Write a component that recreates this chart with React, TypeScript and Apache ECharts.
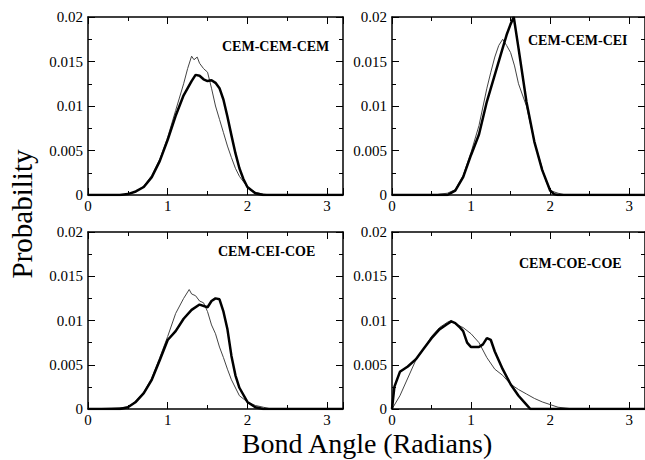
import React, { useEffect, useRef } from "react";
import * as echarts from "echarts";

// Panel names
const panelNames = ["CEM-CEM-CEM", "CEM-CEM-CEI", "CEM-CEI-COE", "CEM-COE-COE"];

// [angle (rad), probability] pairs
const tlThin = [[0,0],[0.45,0],[0.5,0.0001],[0.6,0.0004],[0.7,0.001],[0.8,0.0022],[0.9,0.004],[1.0,0.0065],[1.1,0.0095],[1.2,0.0125],[1.25,0.0142],[1.3,0.0156],[1.33,0.0152],[1.37,0.0155],[1.4,0.0148],[1.45,0.0142],[1.5,0.0138],[1.55,0.012],[1.6,0.01],[1.65,0.0085],[1.7,0.007],[1.75,0.0055],[1.8,0.0042],[1.85,0.003],[1.9,0.0021],[2.0,0.0009],[2.1,0.0003],[2.2,0.0001],[2.3,0],[3.2,0]];
const tlThick = [[0,0],[0.4,0],[0.5,0.0001],[0.6,0.0004],[0.7,0.0009],[0.8,0.002],[0.9,0.0038],[1.0,0.0062],[1.1,0.0089],[1.2,0.0112],[1.3,0.0128],[1.35,0.0135],[1.4,0.0134],[1.45,0.013],[1.5,0.0128],[1.55,0.0129],[1.6,0.0126],[1.65,0.012],[1.7,0.0107],[1.75,0.0088],[1.8,0.0067],[1.85,0.0047],[1.9,0.003],[1.95,0.0018],[2.0,0.0009],[2.1,0.0002],[2.2,0],[3.2,0]];

const trThin = [[0,0],[0.55,0],[0.6,0.0001],[0.7,0.0002],[0.8,0.0006],[0.9,0.0022],[1.0,0.0048],[1.1,0.0078],[1.2,0.012],[1.25,0.0138],[1.3,0.0155],[1.35,0.0168],[1.4,0.0175],[1.45,0.0168],[1.5,0.016],[1.55,0.0145],[1.6,0.0125],[1.7,0.01],[1.8,0.006],[1.9,0.003],[1.95,0.0015],[2.0,0.0005],[2.1,0.0002],[2.2,0],[3.2,0]];
const trThick = [[0,0],[0.7,0],[0.8,0.0005],[0.9,0.002],[1.0,0.0045],[1.1,0.0068],[1.2,0.0105],[1.3,0.0135],[1.4,0.0165],[1.45,0.018],[1.5,0.0192],[1.54,0.02],[1.6,0.0165],[1.7,0.0105],[1.8,0.006],[1.9,0.0028],[2.0,0.0005],[2.05,0.0001],[2.1,0],[3.2,0]];

const blThin = [[0,0],[0.3,0.0001],[0.5,0.0002],[0.6,0.0009],[0.7,0.0019],[0.8,0.0035],[0.9,0.0058],[1.0,0.0082],[1.1,0.0108],[1.2,0.0125],[1.27,0.0135],[1.3,0.013],[1.35,0.0128],[1.4,0.0122],[1.45,0.012],[1.5,0.011],[1.55,0.0095],[1.6,0.0085],[1.65,0.007],[1.7,0.0058],[1.75,0.0045],[1.8,0.0033],[1.9,0.0015],[2.0,0.0008],[2.1,0.0004],[2.2,0.0002],[2.3,0],[3.2,0]];
const blThick = [[0,0],[0.4,0],[0.5,0.0002],[0.6,0.0008],[0.7,0.0018],[0.8,0.0033],[0.9,0.0055],[1.0,0.0078],[1.1,0.0088],[1.2,0.0102],[1.3,0.0112],[1.4,0.0118],[1.5,0.0115],[1.55,0.0122],[1.6,0.0125],[1.65,0.0124],[1.7,0.011],[1.75,0.009],[1.8,0.006],[1.85,0.0038],[1.9,0.0024],[2.0,0.0008],[2.1,0.0002],[2.2,0],[3.2,0]];

const brThin = [[0,0],[0.1,0.0015],[0.2,0.0035],[0.3,0.0055],[0.4,0.0068],[0.5,0.0082],[0.6,0.0092],[0.7,0.0098],[0.75,0.01],[0.8,0.0096],[0.9,0.0092],[1.0,0.0085],[1.1,0.0075],[1.2,0.0058],[1.3,0.0045],[1.4,0.0038],[1.5,0.0028],[1.6,0.0022],[1.7,0.0017],[1.8,0.0012],[1.9,0.0008],[2.0,0.0005],[2.1,0.0002],[2.2,0.0001],[2.3,0],[3.2,0]];
const brThick = [[0,0],[0.03,0.0025],[0.1,0.0042],[0.2,0.0048],[0.3,0.0056],[0.4,0.0068],[0.5,0.008],[0.6,0.009],[0.7,0.0096],[0.75,0.0099],[0.8,0.0097],[0.85,0.0093],[0.9,0.0088],[0.95,0.0075],[1.0,0.007],[1.05,0.007],[1.1,0.007],[1.15,0.0073],[1.2,0.008],[1.25,0.0078],[1.3,0.0065],[1.4,0.0045],[1.5,0.0028],[1.6,0.0015],[1.7,0.0005],[1.75,0],[3.2,0]];

const thinSeries = [tlThin, trThin, blThin, brThin];
const thickSeries = [tlThick, trThick, blThick, brThick];

const FONT = "Liberation Serif, serif";

export default function App() {
  const ref = useRef<HTMLDivElement>(null);
  useEffect(() => {
    document.body.style.margin = "0";
    if (!ref.current) return;
    const chart = echarts.init(ref.current, null, { renderer: "svg" });

    const grids = [
      { left: 88, top: 17, width: 255, height: 178 },
      { left: 392, top: 17, width: 256, height: 178 },
      { left: 88, top: 232, width: 255, height: 177 },
      { left: 392, top: 232, width: 256, height: 177 },
    ];
    const labelPos = [
      { x: 222, y: 47 },
      { x: 528, y: 41 },
      { x: 218, y: 252 },
      { x: 519, y: 264 },
    ];
    const lineStyle = { color: "#000", width: 1.5 };
    const xAxes: any[] = [];
    const yAxes: any[] = [];
    const series: any[] = [];
    grids.forEach((_, i) => {
      const baseX = {
        gridIndex: i,
        type: "value",
        min: 0,
        max: 3.2,
        interval: 1,
        axisLine: { onZero: false, lineStyle },
        axisTick: { inside: true, length: 7, lineStyle: { color: "#000", width: 1 } },
        minorTick: { show: true, splitNumber: 2, length: 4, lineStyle: { color: "#000", width: 1 } },
        splitLine: { show: false },
        minorSplitLine: { show: false },
      };
      xAxes.push({
        ...baseX,
        position: "bottom",
        axisLabel: { showMaxLabel: false, fontFamily: FONT, fontSize: 15, color: "#000", margin: 3 },
      });
      xAxes.push({ ...baseX, position: "top", axisLabel: { show: false } });
      const baseY = {
        gridIndex: i,
        type: "value",
        min: 0,
        max: 0.02,
        interval: 0.005,
        axisLine: { onZero: false, lineStyle },
        axisTick: { inside: true, length: 7, lineStyle: { color: "#000", width: 1 } },
        minorTick: { show: true, splitNumber: 2, length: 4, lineStyle: { color: "#000", width: 1 } },
        splitLine: { show: false },
        minorSplitLine: { show: false },
      };
      yAxes.push({
        ...baseY,
        position: "left",
        axisLabel: {
          fontFamily: FONT,
          fontSize: 15,
          color: "#000",
          margin: 5,
          formatter: (v: number) => String(parseFloat(v.toFixed(4))),
        },
      });
      yAxes.push({ ...baseY, position: "right", axisLabel: { show: false } });
      series.push({
        type: "line",
        xAxisIndex: 2 * i,
        yAxisIndex: 2 * i,
        data: thinSeries[i],
        showSymbol: false,
        symbol: "none",
        lineStyle: { color: "#444", width: 1 },
        z: 2,
      });
      series.push({
        type: "line",
        xAxisIndex: 2 * i,
        yAxisIndex: 2 * i,
        data: thickSeries[i],
        showSymbol: false,
        symbol: "none",
        lineStyle: { color: "#000", width: 2.5 },
        z: 3,
      });
    });

    const graphic: any[] = panelNames.map((name, i) => ({
      type: "text",
      left: labelPos[i].x,
      top: labelPos[i].y - 8,
      style: { text: name, fontFamily: FONT, fontWeight: "bold", fontSize: 14, fill: "#000" },
    }));
    graphic.push({
      type: "text",
      x: 22,
      y: 214,
      rotation: Math.PI / 2,
      style: {
        text: "Probability",
        fontFamily: FONT,
        fontSize: 29,
        fill: "#000",
        align: "center",
        verticalAlign: "middle",
      },
    });
    graphic.push({
      type: "text",
      x: 367,
      y: 443,
      style: {
        text: "Bond Angle (Radians)",
        fontFamily: FONT,
        fontSize: 28,
        fill: "#000",
        align: "center",
        verticalAlign: "middle",
      },
    });

    chart.setOption({
      animation: false,
      backgroundColor: "#fff",
      grid: grids.map((g) => ({ ...g, show: false })),
      xAxis: xAxes,
      yAxis: yAxes,
      series,
      graphic,
    });
    return () => chart.dispose();
  }, []);
  return <div ref={ref} style={{ width: 645, height: 460 }} />;
}
